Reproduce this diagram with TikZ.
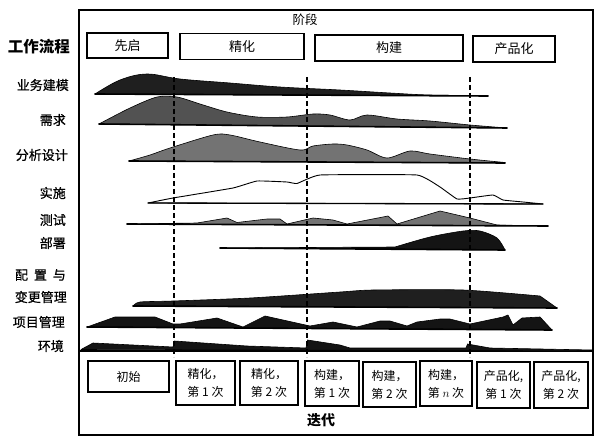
\documentclass[tikz,border=0pt]{standalone}
\usepackage{fontspec}
\setmainfont{Noto Sans CJK SC}
\newfontfamily\lblfont{Noto Sans CJK SC}[FakeBold=0.6]
\tikzset{
  frameline/.style={line width=1.2pt, draw=black},
  phasebox/.style={draw=black, line width=1.1pt, inner sep=1pt, font=\fontsize{13}{15}\selectfont},
  iterbox/.style={draw=black, line width=1.1pt, inner sep=1pt, align=center, font=\fontsize{12}{18}\selectfont},
  wflabel/.style={anchor=east, inner sep=0pt, font=\lblfont\fontsize{13}{15}\selectfont},
  hump/.style={draw=black, line width=0.6pt, line join=round},
  baseln/.style={draw=black, line width=1.6pt, line cap=round},
  phasesep/.style={draw=black, line width=1.4pt, dash pattern=on 5pt off 3pt},
}
\begin{document}
\begin{tikzpicture}[x=1pt,y=-1pt]
\useasboundingbox (0,0) rectangle (601,446);
% frame
\draw[frameline] (79,10) rectangle (593,435);
\draw[frameline] (79,351) -- (593,351);

% titles
\node[font=\fontsize{12.5}{14}\selectfont, inner sep=0pt] (phasetitle) at (305,20) {阶段};
\node[font=\bfseries\fontsize{15.5}{18}\selectfont, anchor=east, inner sep=0pt] (wftitle) at (70,47) {工作流程};
\node[font=\bfseries\fontsize{14}{16}\selectfont, inner sep=0pt] (itertitle) at (321,420) {迭代};

% phase boxes
\node[phasebox, minimum width=81pt, minimum height=25pt] (p1) at (127.5,45.5) {先启};
\node[phasebox, minimum width=124pt, minimum height=26pt] (p2) at (242,46.5) {精化};
\node[phasebox, minimum width=148pt, minimum height=26pt] (p3) at (389,48) {构建};
\node[phasebox, minimum width=82pt, minimum height=26pt] (p4) at (514,49) {产品化};

% workflow labels
\node[wflabel] (l1) at (69,85) {业务建模};
\node[wflabel] (l2) at (66,120) {需求};
\node[wflabel] (l3) at (68,155) {分析设计};
\node[wflabel] (l4) at (66,193) {实施};
\node[wflabel] (l5) at (66,220) {测试};
\node[wflabel] (l6) at (66,243) {部署};
\node[wflabel] (l7) at (66,275) {配\hspace{0.45em}置\hspace{0.45em}与};
\node[wflabel] (l8) at (67,297) {变更管理};
\node[wflabel] (l9) at (65,322) {项目管理};
\node[wflabel] (l10) at (64,346) {环境};

% humps
% business modeling
\filldraw[hump, fill=black!88] (95,94) -- plot[smooth, tension=0.6] coordinates {(95,94) (120,80) (147,74) (180,79) (230,83) (280,87) (340,90) (390,93) (430,95) (488,95.6)} -- (488,96) -- cycle;
\draw[baseln] (95,94) -- (488,96);
% requirements
\filldraw[hump, fill=black!68] (99,124) -- plot[smooth, tension=0.5] coordinates {(99,124) (130,108) (157,97) (177,97) (200,104) (227,112) (257,117) (287,117) (313,114) (330,115) (350,120) (367,115) (397,119) (430,121) (470,125) (507,128)} -- cycle;
\draw[baseln] (99,124) -- (507,128);
% analysis & design
\filldraw[hump, fill=black!55] (129,161) -- plot[smooth, tension=0.5] coordinates {(129,161) (150,155) (170,148) (213,135) (230,135) (260,142) (300,150) (313,146) (333,144) (347,145) (367,150) (387,158) (410,151) (430,154) (470,159) (505,162.5)} -- (505,163) -- cycle;
\draw[baseln] (129,161) -- (505,163);
% implementation
\filldraw[hump, fill=white, line width=0.9pt] (148,203) -- plot[smooth, tension=0.2] coordinates {(148,203) (173,198) (233,188) (257,181) (287,182) (297,183.5) (320,175) (417,175) (440,187) (457,199) (470,198) (493,195) (503,200) (523,202) (543,204)} -- cycle;
\draw[baseln, line width=1.3pt] (148,203) -- (543,204);
% test
\filldraw[hump, fill=black!55] (127,224) -- (197,223) -- (227,218) -- (237,222.5) -- (267,219) -- (280,219) -- (287,224) -- (313,218) -- (333,220) -- (347,224) -- (388,216) -- (397,224) -- (440,211) -- (470,218) -- (497,225) -- (548,226) -- cycle;
\draw[baseln] (127,224) -- (548,226);
% deployment
\filldraw[hump, fill=black!92] (220,248) -- (395,247) -- plot[smooth, tension=0.5] coordinates {(395,247) (430,237) (463,231) (480,231) (497,238) (505,250)} -- cycle;
\draw[baseln] (220,248) -- (505,250);
% configuration & change management
\filldraw[hump, fill=black!88] (133,306) -- plot[smooth, tension=0.4] coordinates {(133,306) (140,302) (173,301) (250,298) (340,292) (373,290) (463,290) (540,296)} -- (557,308) -- cycle;
\draw[baseln] (133,306) -- (557,308);
% project management
\filldraw[hump, fill=black!92] (87,327) -- (115,317) -- (155,317) -- (173,324) -- (180,324) -- (217,318) -- (243,327) -- (265,316) -- (310,326) -- (333,322) -- (357,327) -- (380,321) -- (390,321) -- (407,326) -- (417,322) -- (440,319) -- (450,319) -- (470,324) -- (503,317) -- (508,315) -- (513,325) -- (522,318) -- (540,317) -- (552,330) -- cycle;
\draw[baseln] (87,327) -- (552,330);
% environment
\filldraw[hump, fill=black!92] (81,349.5) -- (93,343) -- (173,347) -- (174.5,341) -- (247,346) -- (306,348) -- (307.5,340) -- (340,345) -- (350,348) -- (466,348) -- (467.5,344) -- (490,348) -- (592,350) -- (592,351) -- cycle;

% phase separators
\draw[phasesep] (174,77) -- (174,357);
\draw[phasesep] (307,77) -- (307,357);
\draw[phasesep] (470,77) -- (470,357);

% iteration boxes
\node[iterbox, minimum width=81pt, minimum height=31pt] (i1) at (128.5,376.5) {初始};
\node[iterbox, minimum width=59pt, minimum height=44pt] (i2) at (205.5,383) {精化，\\第 1 次};
\node[iterbox, minimum width=58pt, minimum height=44pt] (i3) at (269,383) {精化，\\第 2 次};
\node[iterbox, minimum width=54pt, minimum height=45pt] (i4) at (332,383.5) {构建，\\第 1 次};
\node[iterbox, minimum width=53pt, minimum height=45pt] (i5) at (389.5,384.5) {构建，\\第 2 次};
\node[iterbox, minimum width=52pt, minimum height=45pt] (i6) at (446,383.5) {构建，\\第 $n$ 次};
\node[iterbox, minimum width=53pt, minimum height=46pt] (i7) at (503.5,385) {产品化,\\第 1 次};
\node[iterbox, minimum width=54pt, minimum height=46pt] (i8) at (561,385) {产品化,\\第 2 次};
\end{tikzpicture}
\end{document}
